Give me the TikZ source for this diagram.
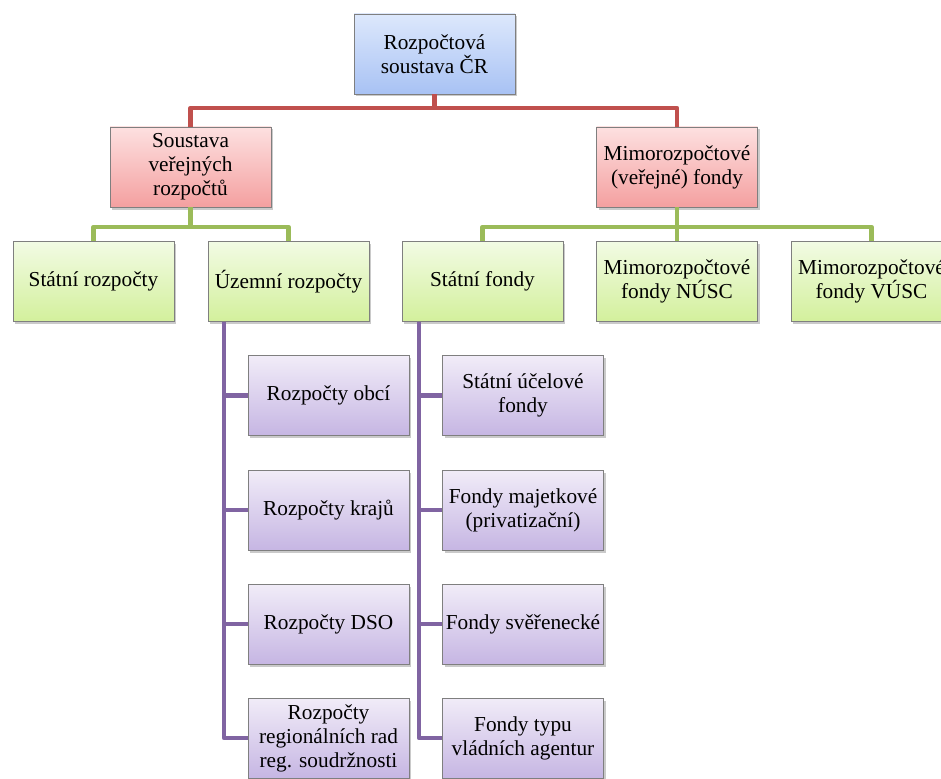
\documentclass[tikz,border=0pt]{standalone}
\usepackage{fontspec}
\setmainfont{Liberation Serif}
\usetikzlibrary{shadows,calc}
\definecolor{bluetop}{HTML}{DDE8FC}
\definecolor{bluebot}{HTML}{A8C2F4}
\definecolor{redtop}{HTML}{FDE0E0}
\definecolor{redbot}{HTML}{F4A0A0}
\definecolor{greentop}{HTML}{F2FBE4}
\definecolor{greenbot}{HTML}{D3F09C}
\definecolor{purptop}{HTML}{F1ECF8}
\definecolor{purpbot}{HTML}{C6B6E3}
\definecolor{redln}{HTML}{C0504D}
\definecolor{greenln}{HTML}{9BBB59}
\definecolor{purpln}{HTML}{8064A2}
\definecolor{bord}{HTML}{7F7F7F}
\tikzset{
  box/.style={draw=bord, line width=0.8pt, minimum width=161pt, minimum height=80pt,
    align=center, inner sep=1pt, font=\fontsize{21.3}{24}\selectfont,
    drop shadow={shadow xshift=2pt, shadow yshift=-2.5pt, opacity=0.35, fill=black!60}},
  bluebox/.style={box, top color=bluetop, bottom color=bluebot},
  redbox/.style={box, top color=redtop, bottom color=redbot},
  greenbox/.style={box, top color=greentop, bottom color=greenbot},
  purpbox/.style={box, top color=purptop, bottom color=purpbot},
  conn/.style={line width=4.5pt, line join=round, line cap=butt},
  redconn/.style={conn, draw=redln},
  greenconn/.style={conn, draw=greenln},
  purpconn/.style={conn, draw=purpln},
}
\begin{document}
\begin{tikzpicture}[x=1pt, y=-1pt]
\useasboundingbox (0,0) rectangle (941,778);
\coordinate (rootbus) at (434.5,108);
\coordinate (soubus) at (190.5,227);
\coordinate (mimbus) at (677,227);
\coordinate (uzbus) at (224,322);
\coordinate (sfbus) at (419,322);
% nodes
\node[bluebox] (root) at (434.5,54) {Rozpočtová\\soustava ČR};
\node[redbox] (sou) at (190.5,167) {Soustava\\veřejných\\rozpočtů};
\node[redbox] (mim) at (677,167) {Mimorozpočtové\\(veřejné) fondy};
\node[greenbox] (sr) at (93.5,281.5) {Státní rozpočty};
\node[greenbox] (uz) at (288.5,281.5) {Územní rozpočty};
\node[greenbox] (sf) at (482.5,281.5) {Státní fondy};
\node[greenbox] (nusc) at (677,281.5) {Mimorozpočtové\\fondy NÚSC};
\node[greenbox] (vusc) at (871.5,281.5) {Mimorozpočtové\\fondy VÚSC};
\node[purpbox] (p1) at (328.5,395.5) {Rozpočty obcí};
\node[purpbox] (p2) at (328.5,510) {Rozpočty krajů};
\node[purpbox] (p3) at (328.5,624) {Rozpočty DSO};
\node[purpbox] (p4) at (328.5,738) {Rozpočty\\regionálních rad\\reg. soudržnosti};
\node[purpbox] (q1) at (523,395.5) {Státní účelové\\fondy};
\node[purpbox] (q2) at (523,510) {Fondy majetkové\\(privatizační)};
\node[purpbox] (q3) at (523,624) {Fondy svěřenecké};
\node[purpbox] (q4) at (523,738) {Fondy typu\\vládních agentur};
% connectors
\draw[redconn] (root.south) -- (rootbus);
\draw[redconn] (sou.north) |- (rootbus) -| (mim.north);
\draw[greenconn] (sou.south) -- (soubus);
\draw[greenconn] (sr.north) |- (soubus) -| (uz.north);
\draw[greenconn] (mim.south) -- (mimbus);
\draw[greenconn] (sf.north) |- (mimbus) -| (vusc.north);
\draw[greenconn] (nusc.north) -- (mimbus);
\draw[purpconn] (uzbus) |- (p4.west);
\draw[purpconn] (uzbus |- p1.west) -- (p1.west);
\draw[purpconn] (uzbus |- p2.west) -- (p2.west);
\draw[purpconn] (uzbus |- p3.west) -- (p3.west);
\draw[purpconn] (sfbus) |- (q4.west);
\draw[purpconn] (sfbus |- q1.west) -- (q1.west);
\draw[purpconn] (sfbus |- q2.west) -- (q2.west);
\draw[purpconn] (sfbus |- q3.west) -- (q3.west);
\end{tikzpicture}
\end{document}
